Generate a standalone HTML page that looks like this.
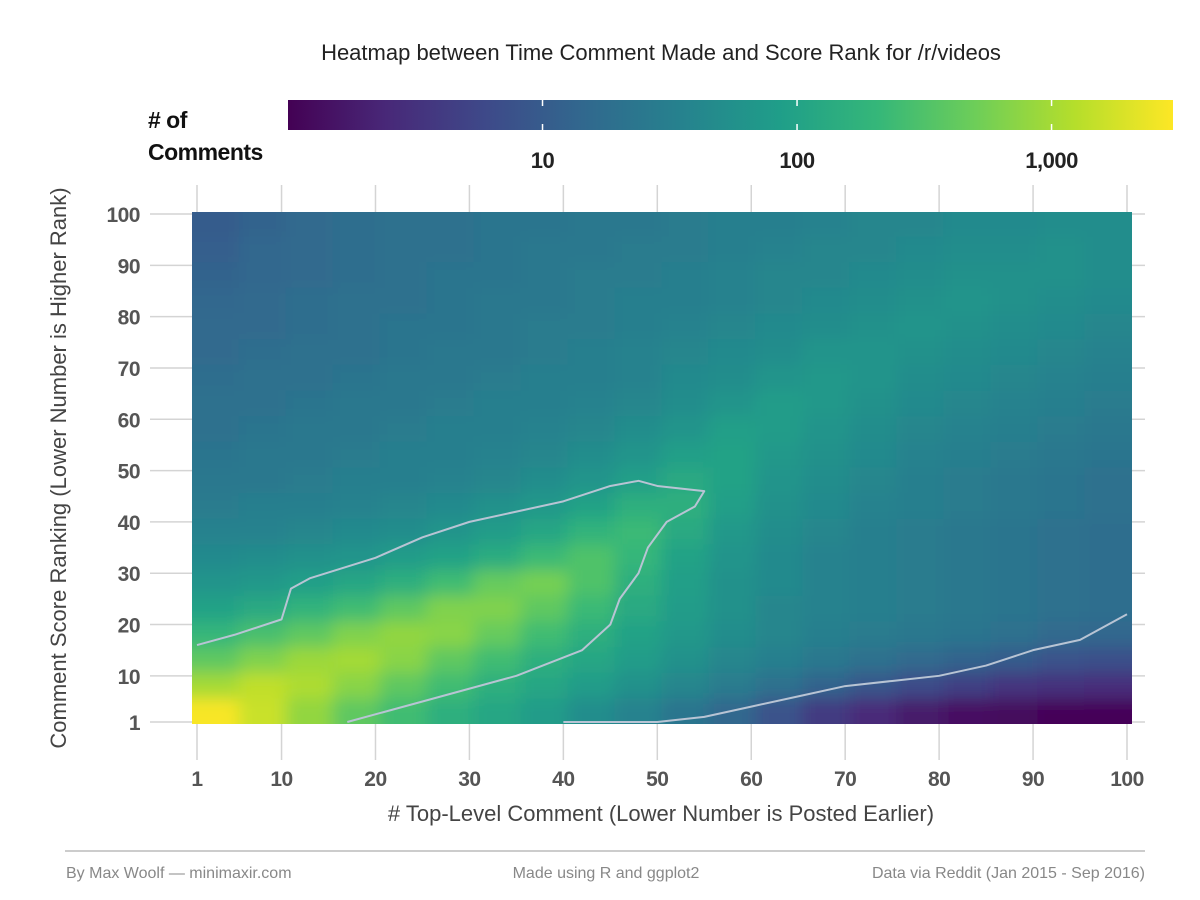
<!DOCTYPE html>
<html><head><meta charset="utf-8"><style>
body{margin:0;background:#fff;}
svg{display:block;font-family:"Liberation Sans",sans-serif;}
.tk{font-weight:bold;font-size:21px;fill:#555;letter-spacing:-0.5px;}
</style></head><body>
<svg id="chart" width="1200" height="900" viewBox="0 0 1200 900">
<defs><linearGradient id="vir" x1="0" x2="1" y1="0" y2="0"></linearGradient>
<filter id="smooth" filterUnits="userSpaceOnUse" x="100" y="120" width="1130" height="700"><feGaussianBlur stdDeviation="8"/></filter>
<clipPath id="plotclip"><rect x="192" y="212" width="940" height="512"/></clipPath></defs>
<text x="661" y="60" text-anchor="middle" font-size="22" fill="#222">Heatmap between Time Comment Made and Score Rank for /r/videos</text>
<text x="148" y="128" font-size="23" font-weight="bold" fill="#111" letter-spacing="-0.5">#&#160;of</text>
<text x="148" y="160" font-size="23" font-weight="bold" fill="#111" letter-spacing="-0.5">Comments</text>
<g id="grid"></g>
<g clip-path="url(#plotclip)"><g id="cells" filter="url(#smooth)"></g></g>
<g id="contours"></g>
<g id="axes"></g>
<g id="legend"></g>
<text x="66" y="468" transform="rotate(-90 66 468)" text-anchor="middle" font-size="22" fill="#444">Comment Score Ranking (Lower Number is Higher Rank)</text>
<text x="661" y="821" text-anchor="middle" font-size="22" fill="#444"># Top-Level Comment (Lower Number is Posted Earlier)</text>
<line x1="65" y1="851" x2="1145" y2="851" stroke="#bbb" stroke-width="1.5"/>
<text x="66" y="878" font-size="16" fill="#888">By Max Woolf — minimaxir.com</text>
<text x="606" y="878" text-anchor="middle" font-size="16" fill="#888">Made using R and ggplot2</text>
<text x="1145" y="878" text-anchor="end" font-size="16" fill="#888">Data via Reddit (Jan 2015 - Sep 2016)</text>
</svg>
<script>
// Data
const xBins = [3,8,13,18,23,28,33,38,43,48,53,58,63,68,73,78,83,88,93,98];
const yBins = [98,93,88,83,78,73,68,63,58,53,48,43,38,33,28,23,18,13,8,3];
// log10(# of comments), rows top (y=98) to bottom (y=3)
const logCounts = [
[1.0,1.1,1.2,1.25,1.3,1.3,1.35,1.35,1.4,1.4,1.45,1.5,1.5,1.55,1.6,1.6,1.65,1.65,1.7,1.7],
[1.05,1.15,1.2,1.25,1.3,1.3,1.35,1.4,1.4,1.45,1.45,1.5,1.55,1.6,1.6,1.65,1.7,1.7,1.75,1.7],
[1.1,1.15,1.2,1.25,1.3,1.35,1.35,1.4,1.45,1.45,1.5,1.55,1.6,1.6,1.65,1.7,1.75,1.75,1.75,1.7],
[1.15,1.2,1.25,1.3,1.3,1.35,1.4,1.4,1.45,1.5,1.5,1.55,1.6,1.65,1.7,1.75,1.8,1.75,1.7,1.65],
[1.2,1.2,1.25,1.3,1.35,1.35,1.4,1.45,1.45,1.5,1.55,1.6,1.65,1.7,1.75,1.8,1.75,1.7,1.65,1.6],
[1.2,1.25,1.3,1.3,1.35,1.4,1.4,1.45,1.5,1.55,1.6,1.65,1.7,1.8,1.8,1.75,1.7,1.65,1.6,1.55],
[1.25,1.3,1.3,1.35,1.4,1.4,1.45,1.5,1.5,1.55,1.65,1.7,1.8,1.85,1.8,1.7,1.65,1.6,1.55,1.5],
[1.3,1.3,1.35,1.4,1.4,1.45,1.5,1.5,1.55,1.6,1.7,1.8,1.9,1.85,1.75,1.65,1.6,1.55,1.5,1.45],
[1.3,1.35,1.4,1.4,1.45,1.5,1.5,1.55,1.6,1.7,1.8,1.95,1.9,1.8,1.7,1.6,1.55,1.5,1.45,1.4],
[1.35,1.4,1.4,1.45,1.5,1.5,1.55,1.6,1.7,1.8,1.95,2.0,1.85,1.75,1.65,1.55,1.5,1.45,1.4,1.35],
[1.4,1.4,1.45,1.5,1.5,1.55,1.6,1.7,1.8,1.95,2.1,2.0,1.8,1.7,1.6,1.5,1.45,1.4,1.35,1.3],
[1.45,1.5,1.5,1.55,1.6,1.65,1.75,1.85,2.0,2.2,2.2,1.95,1.75,1.65,1.55,1.5,1.45,1.4,1.35,1.3],
[1.55,1.55,1.6,1.65,1.7,1.8,1.9,2.05,2.25,2.35,2.1,1.85,1.7,1.6,1.5,1.45,1.4,1.35,1.3,1.25],
[1.65,1.7,1.75,1.8,1.9,2.0,2.15,2.35,2.5,2.3,2.0,1.8,1.65,1.55,1.5,1.45,1.4,1.35,1.3,1.25],
[1.8,1.85,1.95,2.05,2.2,2.4,2.65,2.75,2.5,2.2,1.95,1.75,1.65,1.55,1.5,1.45,1.4,1.35,1.3,1.25],
[2.0,2.1,2.25,2.4,2.6,2.8,2.8,2.6,2.35,2.1,1.9,1.75,1.6,1.55,1.5,1.45,1.4,1.35,1.3,1.25],
[2.3,2.45,2.6,2.8,2.9,2.85,2.65,2.4,2.2,2.0,1.85,1.7,1.6,1.5,1.45,1.4,1.35,1.3,1.2,1.15],
[2.6,2.8,2.95,3.0,2.85,2.6,2.4,2.2,2.05,1.9,1.75,1.6,1.5,1.4,1.3,1.2,1.1,1.0,0.9,0.85],
[3.0,3.15,3.05,2.85,2.6,2.4,2.2,2.05,1.9,1.75,1.6,1.45,1.3,1.1,0.95,0.8,0.65,0.55,0.5,0.45],
[3.45,3.2,2.9,2.6,2.4,2.2,2.05,1.9,1.7,1.55,1.35,1.15,0.9,0.6,0.4,0.25,0.15,0.1,0.05,0.05]
];
const xTicks = [1,10,20,30,40,50,60,70,80,90,100];
const yTicks = [1,10,20,30,40,50,60,70,80,90,100];
const legendTicks = [10,100,1000];
const legendLabels = ["10","100","1,000"];
const contourAX = [1,5,10,11,13,20,25,30,35,40,45,48,50,55,54,51,49,48,46,45,42,35,25,17];
const contourAY = [16,18,21,27,29,33,37,40,42,44,47,48,47,46,43,40,35,30,25,20,15,10,5,1];
const contourBX = [40,50,55,60,65,70,75,80,85,90,95,100];
const contourBY = [1,1,2,4,6,8,9,10,12,15,17,22];

const NS="http://www.w3.org/2000/svg";
const xs=v=>197+(v-1)*(1127-197)/99;
const ys=v=>722-(v-1)*(722-214)/99;
const logMax=Math.log10(3000);
const lx=v=>288+(Math.log10(v)-0)*(1173-288)/logMax;
const VIR=["#440154","#482878","#3e4989","#31688e","#26828e","#1f9e89","#35b779","#6ece58","#b5de2b","#fde725"];
function hex(h){return [1,3,5].map(i=>parseInt(h.substr(i,2),16));}
function vir(t){t=Math.max(0,Math.min(1,t));const p=t*(VIR.length-1),i=Math.min(Math.floor(p),VIR.length-2),f=p-i;const a=hex(VIR[i]),b=hex(VIR[i+1]);return "rgb("+a.map((c,k)=>Math.round(c+(b[k]-c)*f)).join(",")+")";}
function mk(tag,attrs,parent){const e=document.createElementNS(NS,tag);for(const k in attrs)e.setAttribute(k,attrs[k]);parent.appendChild(e);return e;}

const grid=document.getElementById('grid');
xTicks.forEach(t=>{const l=mk('line',{x1:xs(t),x2:xs(t),y1:185,y2:760,stroke:'#d4d4d4','stroke-width':1.5},grid);

});
yTicks.forEach(t=>{const l=mk('line',{x1:150,x2:1145,y1:ys(t),y2:ys(t),stroke:'#d4d4d4','stroke-width':1.5},grid);

});

const cells=document.getElementById('cells');
const cw=xs(6)-xs(1), ch=ys(1)-ys(6);
const PAD=40;
yBins.forEach((yv,r)=>xBins.forEach((xv,c)=>{
 const v=logCounts[r][c];
 let x0=xs(xv-2.5)-0.5, y0=ys(yv+2.5)-0.5, w=cw+1, h=ch+1;
 if(c===0){x0-=PAD;w+=PAD;}
 if(c===xBins.length-1){w+=PAD;}
 if(r===0){y0-=PAD;h+=PAD;}
 if(r===yBins.length-1){h+=PAD;}
 const rc=mk('rect',{x:x0,y:y0,width:w,height:h,fill:vir(v/logMax)},cells);
 
 
}));

const cg=document.getElementById('contours');
function poly(X,Y,name){const p=mk('polyline',{points:X.map((x,i)=>xs(x)+","+ys(Y[i])).join(" "),fill:'none',stroke:'#b8c4d4','stroke-width':2,'stroke-linejoin':'round'},cg);

}
poly(contourAX,contourAY,'contour-main');
poly(contourBX,contourBY,'contour-lower-right');

const ax=document.getElementById('axes');
xTicks.forEach(t=>{const e=mk('text',{x:xs(t),y:786,'text-anchor':'middle',class:'tk'},ax);e.textContent=t;

});
yTicks.forEach(t=>{const e=mk('text',{x:140,y:ys(t)+8,'text-anchor':'end',class:'tk'},ax);e.textContent=t;

});

const gr=document.getElementById('vir');
VIR.forEach((c,i)=>mk('stop',{offset:(i/(VIR.length-1)),'stop-color':c},gr));
const lg=document.getElementById('legend');
const bar=mk('rect',{x:288,y:100,width:885,height:30,fill:'url(#vir)'},lg);


legendTicks.forEach((t,i)=>{
 const x=lx(t);
 mk('line',{x1:x,x2:x,y1:100,y2:106,stroke:'#fff','stroke-width':1.5},lg);
 mk('line',{x1:x,x2:x,y1:124,y2:130,stroke:'#fff','stroke-width':1.5},lg);
 const e=mk('text',{x:x,y:168,'text-anchor':'middle','font-size':22,'font-weight':'bold',fill:'#222','letter-spacing':'-0.5'},lg);
 e.textContent=legendLabels[i];
 
 
});
</script>
</body></html>
